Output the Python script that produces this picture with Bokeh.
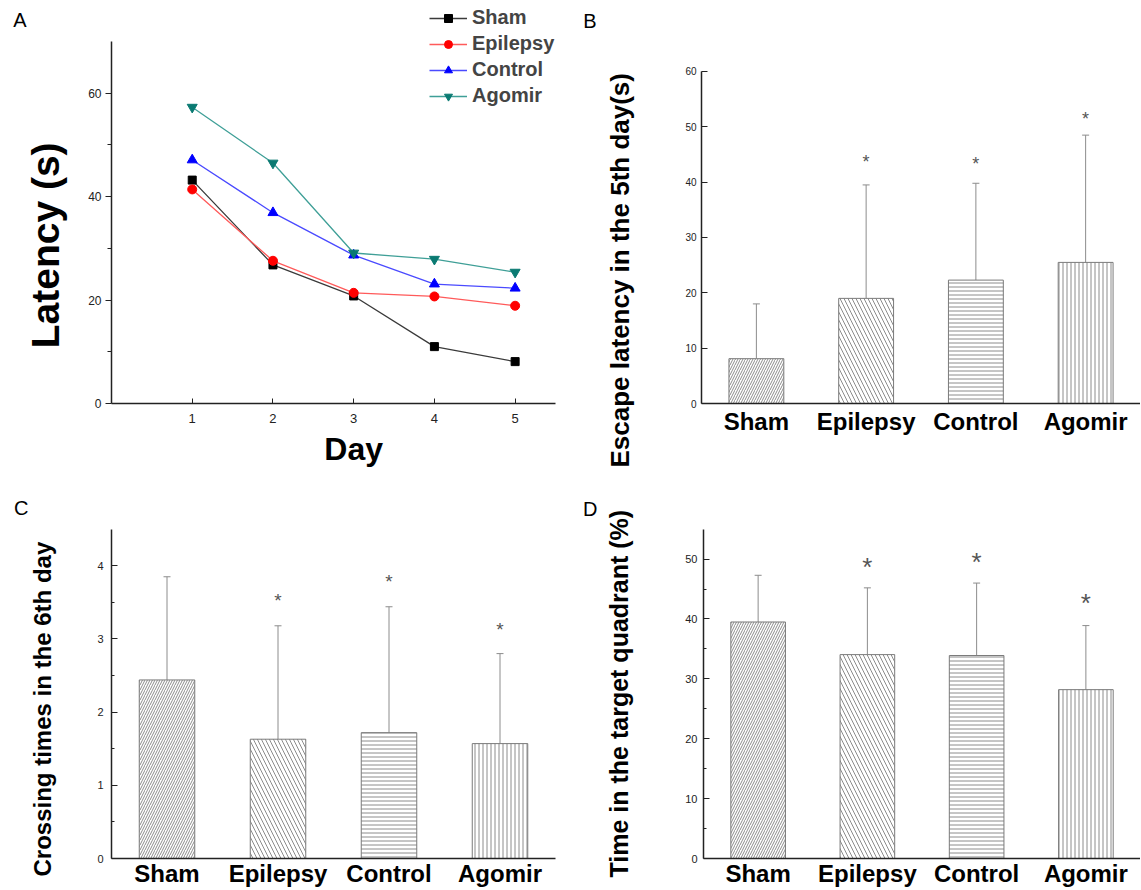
import math
from bokeh.plotting import figure
from bokeh.models import (ColumnDataSource, FixedTicker, Legend, LegendItem, LinearAxis,
                          Whisker, TeeHead, Range1d, Title)
from bokeh.layouts import row, column
from bokeh.embed import file_html
from bokeh.resources import INLINE
from bokeh.core.properties import value

FONT = "Liberation Sans"
NBSP = "\u00a0"

# ---------------- data ----------------
days = [1, 2, 3, 4, 5]
day_ticks = [1, 2, 3, 4, 5]
sham_latency = [43.2, 26.8, 20.8, 11.0, 8.1]
epilepsy_latency = [41.4, 27.6, 21.4, 20.7, 18.9]
control_latency = [47.1, 36.9, 28.7, 23.1, 22.3]
agomir_latency = [57.3, 46.5, 29.1, 27.9, 25.4]

groups = ["Sham", "Epilepsy", "Control", "Agomir"]

escape_mean = [8.1, 19.0, 22.3, 25.5]
escape_upper = [18.0, 39.5, 39.8, 48.5]
escape_star = [None, 44.4, 44.0, 52.2]

crossing_mean = [2.44, 1.63, 1.72, 1.57]
crossing_upper = [3.85, 3.18, 3.44, 2.80]
crossing_star = [None, 3.58, 3.84, 3.19]

quadrant_mean = [39.5, 34.05, 33.9, 28.2]
quadrant_upper = [47.3, 45.2, 46.0, 38.9]
quadrant_star = [None, 49.7, 50.4, 43.6]

latency_ticks = [0, 20, 40, 60]
latency_minor = [10, 30, 50]
escape_ticks = [0, 10, 20, 30, 40, 50, 60]
crossing_ticks = [0, 1, 2, 3, 4]
crossing_minor = [0.5, 1.5, 2.5, 3.5]
quadrant_ticks = [0, 10, 20, 30, 40, 50]
quadrant_minor = [5, 15, 25, 35, 45]

# styles (kept apart from data)
hatches = ["/", "\\", "-", "|"]
hatch_scales = [5, 8, 4, 4]
AXIS_COLOR = "#222222"


def base_fig(width, height, left, right, bottom, xr, yr, y_bounds):
    p = figure(width=width, height=height, x_range=xr, y_range=yr,
               output_backend="svg", toolbar_location=None,
               min_border_left=left, min_border_right=right,
               min_border_top=0, min_border_bottom=bottom)
    p.grid.visible = False
    p.outline_line_color = None
    p.background_fill_color = "white"
    p.border_fill_color = "white"
    for ax in (p.xaxis[0], p.yaxis[0]):
        ax.axis_line_color = AXIS_COLOR
        ax.axis_line_width = 1.5
        ax.major_tick_line_color = AXIS_COLOR
        ax.minor_tick_line_color = AXIS_COLOR
        ax.major_label_text_font = FONT
        ax.major_label_text_color = "#222222"
    p.yaxis[0].bounds = y_bounds
    return p


def bare_axis(**kw):
    return LinearAxis(axis_line_color=None, major_tick_line_color=None,
                      minor_tick_line_color=None,
                      major_tick_in=0, major_tick_out=0, minor_tick_in=0, minor_tick_out=0,
                      major_label_text_font=FONT, major_label_text_color="black", **kw)


def title_axis(p, text, pad, size, standoff):
    """A y-axis title; trailing no-break spaces shift it down along the frame."""
    ax = bare_axis(ticker=FixedTicker(ticks=[], minor_ticks=[]), major_label_standoff=0,
                   axis_label=text + NBSP * pad, axis_label_standoff=standoff,
                   axis_label_text_font=FONT, axis_label_text_font_size=f"{size}px",
                   axis_label_text_font_style="bold", axis_label_text_color="black")
    p.add_layout(ax, "left")


def side_title(p, text, size, offset, gap):
    """Vertical y title in the left panel, starting `offset` px above the frame bottom."""
    ya = p.yaxis[0]
    ya.axis_label = NBSP          # spacer between tick labels and the title
    ya.axis_label_text_font_size = "1px"
    ya.axis_label_standoff = gap
    t = Title(text=text, align="left", offset=offset, vertical_align="bottom",
              text_font=FONT, text_font_size=f"{size}px", text_font_style="bold",
              text_color="black")
    if "standoff" in Title.properties():
        t.standoff = 2
    p.add_layout(t, "left")


def text_axis(p, side, pos, text, size, standoff, bold=True):
    ax = bare_axis(ticker=FixedTicker(ticks=[pos], minor_ticks=[]),
                   major_label_overrides={pos: text}, major_label_standoff=standoff,
                   major_label_text_font_size=f"{size}px",
                   major_label_text_font_style="bold" if bold else "normal")
    p.add_layout(ax, side)


# ---------------- Panel A ----------------
# y range extends above 70 so the frame reaches the top of the canvas (axis bounded at 70)
pa = base_fig(580, 470, 111, 25, 67, Range1d(0, 5.5), Range1d(0, 77.93), (0, 70))
series = [
    ("Sham", sham_latency, "#3a3a3a", "#000000", "square", 8),
    ("Epilepsy", epilepsy_latency, "#ff5a5a", "#ff0000", "circle", 9),
    ("Control", control_latency, "#4a4aff", "#0000ff", "triangle", 10),
    ("Agomir", agomir_latency, "#3f9f97", "#0a7a72", "inverted_triangle", 10),
]
items = []
for name, vals, lc, mc, marker, size in series:
    src = ColumnDataSource(dict(x=days, y=vals))
    ln = pa.line("x", "y", source=src, line_color=lc, line_width=1.3)
    sc = pa.scatter("x", "y", source=src, marker=marker, size=size,
                    fill_color=mc, line_color=mc)
    items.append(LegendItem(label=name, renderers=[ln, sc]))
legend = Legend(items=items, location=(318, 296), glyph_width=38, glyph_height=20,
                label_height=20, label_standoff=5, spacing=3, padding=0, margin=0,
                border_line_color=None, background_fill_alpha=0,
                label_text_font=FONT, label_text_font_style="bold",
                label_text_font_size="20px")
pa.add_layout(legend)

xa = pa.xaxis[0]
xa.ticker = FixedTicker(ticks=day_ticks)
xa.major_tick_in = 5
xa.major_tick_out = 0
xa.minor_tick_in = 0
xa.minor_tick_out = 0
xa.major_label_text_font_size = "13px"
xa.major_label_standoff = 10
ya = pa.yaxis[0]
ya.ticker = FixedTicker(ticks=latency_ticks, minor_ticks=latency_minor)
ya.major_tick_in = 0
ya.major_tick_out = 6
ya.minor_tick_in = 0
ya.minor_tick_out = 4
ya.major_label_text_font_size = "12px"
ya.major_label_standoff = 4

title_axis(pa, "Latency (s)", 8, 39, 19)
text_axis(pa, "left", 74.1, "A", 20, -6, bold=False)
text_axis(pa, "below", 3, "Day", 32, 5)


# ---------------- bar panels ----------------
def bar_panel(width, height, left, right, bottom, y_end, y_bound, ticks, minor, means,
              uppers, stars, tick_size, tick_standoff, cat_standoff, star_size):
    p = base_fig(width, height, left, right, bottom, Range1d(0.5, 4.5),
                 Range1d(0, y_end), (0, y_bound))
    xs = list(range(1, len(groups) + 1))
    src = ColumnDataSource(dict(x=xs, top=means, upper=uppers,
                                hatch=hatches, hscale=hatch_scales))
    p.vbar(x="x", top="top", bottom=0, width=0.5, source=src,
           fill_color="white", line_color="#7a7a7a", line_width=1,
           hatch_pattern=dict(field="hatch"), hatch_scale=dict(field="hscale"),
           hatch_color="#8c8c8c", hatch_weight=1)
    w = Whisker(base="x", lower="top", upper="upper", source=src,
                line_color="#8c8c8c", line_width=1, lower_head=None,
                upper_head=TeeHead(size=7, line_color="#8c8c8c", line_width=1))
    p.add_layout(w)
    sx = [x for x, s in zip(xs, stars) if s is not None]
    sy = [s for s in stars if s is not None]
    p.text(x=sx, y=sy, text=["*"] * len(sx), text_align="center",
           text_baseline="middle", text_font=value(FONT),
           text_font_size=f"{star_size}px", text_color="#555555",
           y_offset=0.22 * star_size)

    xa = p.xaxis[0]
    xa.ticker = FixedTicker(ticks=xs)
    xa.major_label_overrides = {x: g for x, g in zip(xs, groups)}
    xa.major_tick_in = 0
    xa.major_tick_out = 0
    xa.minor_tick_in = 0
    xa.minor_tick_out = 0
    xa.major_label_text_font_size = "24px"
    xa.major_label_text_font_style = "bold"
    xa.major_label_text_color = "black"
    xa.major_label_standoff = cat_standoff

    ya = p.yaxis[0]
    ya.ticker = FixedTicker(ticks=ticks, minor_ticks=minor)
    ya.major_tick_in = 6
    ya.major_tick_out = 0
    ya.minor_tick_in = 3
    ya.minor_tick_out = 0
    ya.major_label_text_font_size = f"{tick_size}px"
    ya.major_label_standoff = tick_standoff
    return p


pb = bar_panel(560, 470, 114, 0, 67, 72.83, 60, escape_ticks, [], escape_mean,
               escape_upper, escape_star, 10, 5, 4, 18)
side_title(pb, "Escape latency  in the 5th day(s)", 26, -64, 43)
text_axis(pb, "left", 69.2, "B", 20, 5, bold=False)

pc = bar_panel(580, 419, 111, 25, 29, 5.302, 4.5, crossing_ticks, crossing_minor,
               crossing_mean, crossing_upper, crossing_star, 11, 8, 1, 19)
side_title(pc, "Crossing times  in the 6th day", 24, -18, 34)
text_axis(pc, "left", 4.785, "C", 20, -3, bold=False)

pd = bar_panel(560, 419, 115, 0, 29, 64.8, 55, quadrant_ticks, quadrant_minor,
               quadrant_mean, quadrant_upper, quadrant_star, 11, 6, 1, 26)
side_title(pd, "Time in the target quadrant (%)", 25, -19, 45)
text_axis(pd, "left", 58.3, "D", 20, 4, bold=False)

layout = column(row(pa, pb), row(pc, pd))

with open("out.html", "w") as f:
    f.write(file_html(layout, INLINE, title="Figure"))
